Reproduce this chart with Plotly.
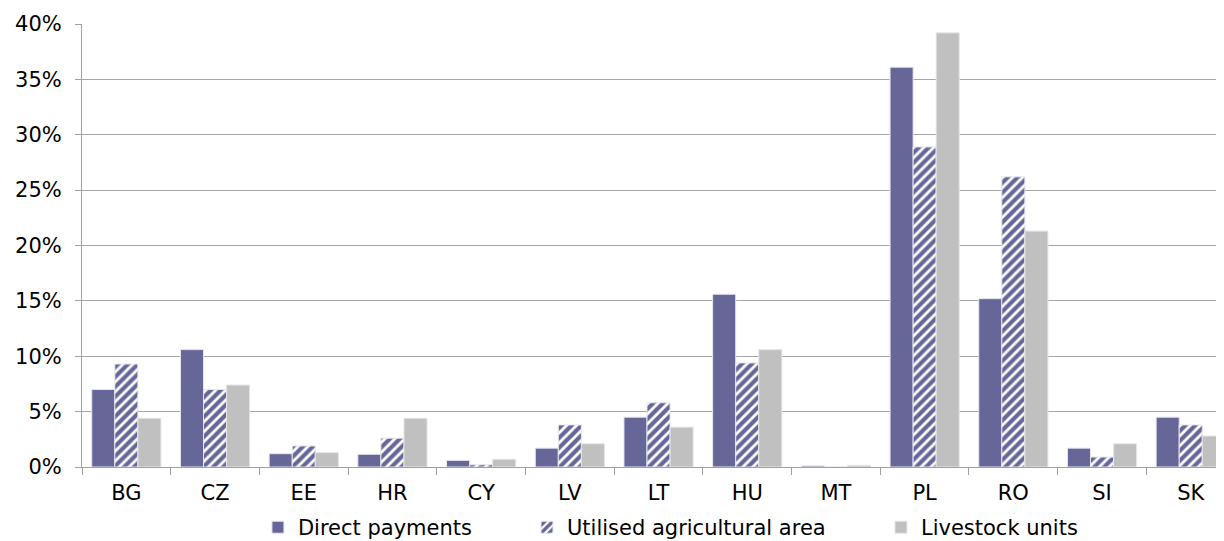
import plotly.graph_objects as go

countries = ["BG", "CZ", "EE", "HR", "CY", "LV", "LT", "HU", "MT", "PL", "RO", "SI", "SK"]
direct_payments = [7.0, 10.6, 1.2, 1.15, 0.6, 1.7, 4.5, 15.6, 0.1, 36.1, 15.2, 1.7, 4.5]
utilised_area = [9.3, 7.0, 1.9, 2.6, 0.2, 3.8, 5.8, 9.4, 0.0, 28.9, 26.2, 0.9, 3.8]
livestock_units = [4.4, 7.4, 1.3, 4.4, 0.7, 2.1, 3.6, 10.6, 0.15, 39.2, 21.3, 2.1, 2.8]

y_ticks = [0, 5, 10, 15, 20, 25, 30, 35, 40]
y_labels = [f"{v}%" for v in y_ticks]

FONT = "DejaVu Sans, Verdana, sans-serif"
FS = 21

fig = go.Figure()
fig.add_trace(go.Bar(
    x=countries, y=direct_payments, name="Direct payments", legend="legend",
    marker=dict(color="#666699", line=dict(color="#E6E6EE", width=1)),
))
fig.add_trace(go.Bar(
    x=countries, y=utilised_area, name="Utilised agricultural area", legend="legend2",
    marker=dict(color="#FFFFFF",
                pattern=dict(shape="/", fgcolor="#666699", bgcolor="#FFFFFF",
                             size=7, solidity=0.6, fgopacity=1),
                line=dict(color="#E6E6EE", width=1)),
))
fig.add_trace(go.Bar(
    x=countries, y=livestock_units, name="Livestock units", legend="legend3",
    marker=dict(color="#C0C0C0", line=dict(color="#E6E6E6", width=1)),
))

leg_common = dict(orientation="h", xref="container", yref="container",
                  y=0.0775, yanchor="top", xanchor="left",
                  font=dict(family=FONT, size=FS), itemwidth=30,
                  bgcolor="rgba(0,0,0,0)", borderwidth=0)

fig.update_layout(
    width=1224, height=541,
    margin=dict(l=74, r=8, t=16, b=82, autoexpand=False),
    paper_bgcolor="white", plot_bgcolor="white",
    barmode="group", bargap=0.22, bargroupgap=0,
    font=dict(family=FONT, size=FS, color="#000000"),
    showlegend=True,
    legend=dict(x=0.2042, **leg_common),
    legend2=dict(x=0.4240, **leg_common),
    legend3=dict(x=0.7132, **leg_common),
)
fig.update_xaxes(
    type="category", range=[-0.5, 12.375], automargin=False,
    showline=True, linecolor="#A0A0A0", linewidth=1,
    ticks="outside", tickson="boundaries", ticklen=7, tickcolor="#A0A0A0",
    ticklabelstandoff=7,
    showgrid=False, tickfont=dict(family=FONT, size=FS),
)
fig.update_yaxes(
    range=[0, 40], tickvals=y_ticks, ticktext=y_labels, automargin=False,
    showline=True, linecolor="#A0A0A0", linewidth=1,
    ticks="outside", ticklen=6, tickcolor="#A0A0A0",
    ticklabelstandoff=9,
    showgrid=True, gridcolor="#A6A6A6", gridwidth=1,
    zeroline=False, tickfont=dict(family=FONT, size=FS),
)

fig.write_html("out.html")
